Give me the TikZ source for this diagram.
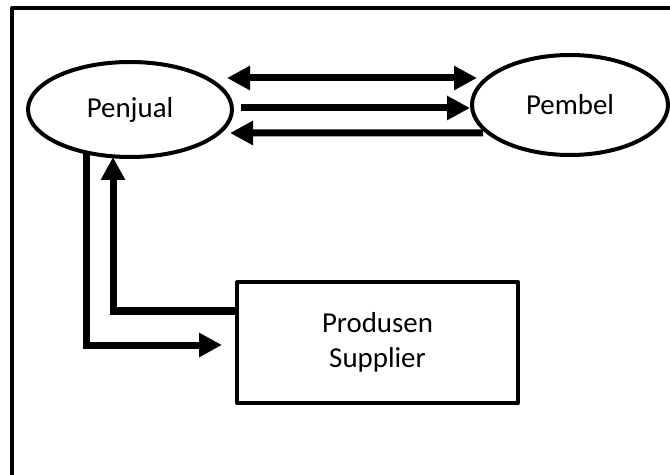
\documentclass[tikz,border=0pt]{standalone}
\usepackage{fontspec}
\setmainfont{Carlito}
\usetikzlibrary{arrows.meta, shapes.geometric}

\begin{document}
\begin{tikzpicture}[x=1bp,y=-1bp,line width=4bp,line join=round,
      >={Triangle[length=23bp,width=23bp]},
      every node/.style={font=\fontsize{29}{35}\selectfont, align=center, inner sep=0pt, outer sep=0pt},
      actor/.style={draw, ellipse},
      arr/.style={line width=7bp, line join=miter}]
  \useasboundingbox (0,0) rectangle (670,475);
  \draw (670,8) -- (12,8) -- (12,475);
  \node[actor, minimum width=204bp, minimum height=95bp] (penjual) at (130,109.5) {Penjual};
  \node[actor, minimum width=196bp, minimum height=100bp] (pembel) at (570,105) {Pembel};
  \node[draw, minimum width=281bp, minimum height=121bp] (supplier) at (377.5,342.5) {Produsen\\Supplier};
  % penjual <-> pembel
  \draw[arr, <->] ([shift={(-5,-31.5)}]penjual.east) -- ([shift={(5,-27)}]pembel.west);
  \draw[arr, ->] ([shift={(9,-1.5)}]penjual.east) -- ([shift={(-2,3)}]pembel.west);
  \draw[arr, ->] ([shift={(11,28)}]pembel.west) -- ([shift={(-2,23.5)}]penjual.east);
  % penjual <-> supplier
  \draw[arr, ->] (penjual.225) |- ([shift={(-15,2.5)}]supplier.west);
  \draw[arr, ->] ([shift={(0,-31.5)}]supplier.west) -| ([xshift=-17bp]penjual.south);
\end{tikzpicture}
\end{document}
